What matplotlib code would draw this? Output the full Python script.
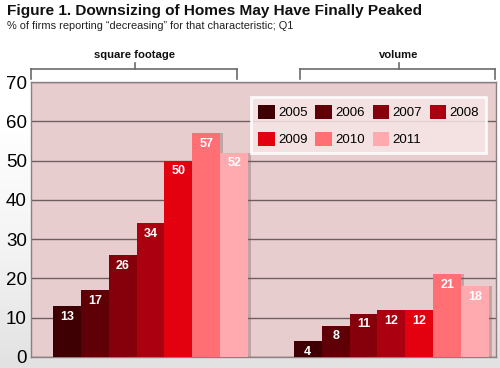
import matplotlib
matplotlib.use("Agg")
import matplotlib.pyplot as plt
import numpy as np
from matplotlib.patches import Patch
from matplotlib.colors import LinearSegmentedColormap

plt.rcParams['font.family'] = ['Liberation Sans', 'DejaVu Sans']

groups = ["square footage", "volume"]
years = ["2005", "2006", "2007", "2008", "2009", "2010", "2011"]
values = {
    "2005": [13, 4],
    "2006": [17, 8],
    "2007": [26, 11],
    "2008": [34, 12],
    "2009": [50, 12],
    "2010": [57, 21],
    "2011": [52, 18],
}
colors = ["#3E0003", "#5E0006", "#85000B", "#AA0010", "#E3000F", "#FF6F74", "#FFAAAE"]
yticks = [0, 10, 20, 30, 40, 50, 60, 70]

fig = plt.figure(figsize=(5, 3.68), dpi=100)

# background gradient
bg = fig.add_axes([0, 0, 1, 1], zorder=-10)
grad = np.linspace(0, 1, 256).reshape(-1, 1)
cmap = LinearSegmentedColormap.from_list("g", ["#E2E2E2", "#F4F4F4", "#FFFFFF", "#FFFFFF"])
bg.imshow(grad, aspect="auto", cmap=cmap, extent=[0, 1, 0, 1], origin="lower")
bg.axis("off")

ax = fig.add_axes([0.062, 0.030, 0.930, 0.747])
ax.set_facecolor("#E8CDCE")

x = np.arange(len(groups))
w = 0.1158
n = len(years)
for i, (yr, c) in enumerate(zip(years, colors)):
    offs = (i - (n - 1) / 2) * w
    vals = values[yr]
    ax.bar(x + offs + 0.012, vals, w, bottom=0, color="#7a5a5a", alpha=0.35, zorder=2, linewidth=0)
    ax.bar(x + offs, vals, w, color=c, zorder=3, linewidth=0, label=yr)
    for xi, v in zip(x + offs, vals):
        ax.text(xi, v - 1.2, str(v), ha="center", va="top", color="white",
                fontsize=9, fontweight="bold", zorder=4)

ax.set_xlim(-0.496, 1.434)
ax.set_ylim(0, 70)
ax.set_yticks(yticks)
ax.set_yticklabels([str(t) for t in yticks], fontsize=13.5)
ax.tick_params(axis="y", length=0, pad=3)
ax.set_xticks([])
ax.yaxis.grid(True, color="#6F5E5E", linewidth=1.0, zorder=1)
ax.set_axisbelow(True)
for s in ax.spines.values():
    s.set_color("#8A8080")
    s.set_linewidth(1.0)

# legend filled row-wise (matplotlib fills columns, so reorder)
order = [0, 4, 1, 5, 2, 6, 3]
handles = [Patch(facecolor=colors[k], label=years[k]) for k in order]
leg = ax.legend(handles=handles,
                ncol=4, loc="upper right", bbox_to_anchor=(0.9935, 0.968),
                fontsize=9.5, frameon=True, fancybox=False, handlelength=1.25,
                handleheight=1.25, handletextpad=0.25, columnspacing=0.6,
                labelspacing=0.95, borderpad=0.55)
leg.set_zorder(5)
leg.get_frame().set_facecolor("#F7E6E6")
leg.get_frame().set_edgecolor("white")
leg.get_frame().set_linewidth(2)
leg.get_frame().set_alpha(0.85)

def px(xp, yp):
    return xp / 500, 1 - yp / 368

def bracket(x0, x1, xc, label):
    lc = "#6B6B6B"
    top = 69
    fig.add_artist(plt.Line2D([px(x0, 0)[0], px(x1, 0)[0]], [px(0, top)[1]] * 2, color=lc, lw=1.2))
    for xx in (x0, x1):
        fig.add_artist(plt.Line2D([px(xx, 0)[0]] * 2, [px(0, top)[1], px(0, 79)[1]], color=lc, lw=1.2))
    fig.add_artist(plt.Line2D([px(xc, 0)[0]] * 2, [px(0, top)[1], px(0, 63)[1]], color=lc, lw=1.2))
    fig.text(px(xc, 0)[0], px(0, 55)[1], label, ha="center", va="center",
             fontsize=8.1, fontweight="bold", color="#111111")

bracket(31, 237, 135, groups[0])
bracket(300, 495, 399, groups[1])

fig.text(0.014, 1 - 11 / 368, "Figure 1. Downsizing of Homes May Have Finally Peaked",
         ha="left", va="center", fontsize=11.1, fontweight="bold", color="#111111")
fig.text(0.014, 1 - 26 / 368, "% of firms reporting \u201cdecreasing\u201d for that characteristic; Q1",
         ha="left", va="center", fontsize=7.9, color="#222222")

fig.savefig("out.png", dpi=100)
